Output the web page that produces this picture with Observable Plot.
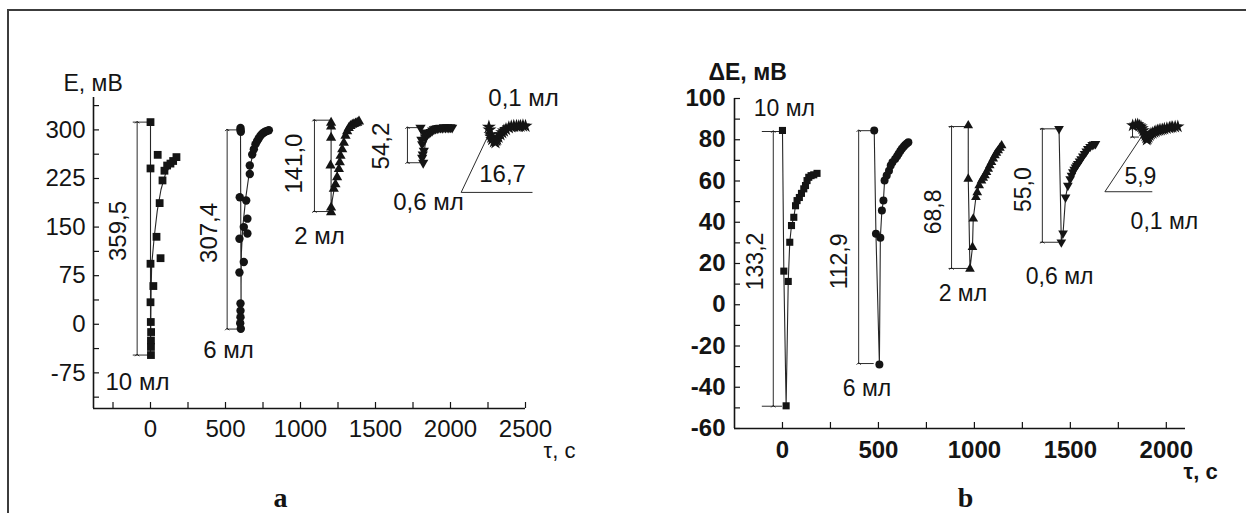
<!DOCTYPE html>
<html><head><meta charset="utf-8">
<script src="https://cdn.jsdelivr.net/npm/d3@7"></script>
<script src="https://cdn.jsdelivr.net/npm/@observablehq/plot@0.6"></script>
<style>
html,body{margin:0;padding:0;background:#fff;}
#wrap{position:relative;width:1246px;height:513px;overflow:hidden;background:#fff;}
#frame{position:absolute;left:7px;top:9px;width:1245px;height:520px;border-top:2px solid #3c3c3c;border-left:2px solid #3c3c3c;}
#pa{position:absolute;left:0;top:0;width:620px;height:513px;}
#pb{position:absolute;left:620px;top:0;width:626px;height:513px;}
</style></head>
<body><div id="wrap"><div id="frame"></div><div id="pa"></div><div id="pb"></div></div>
<script>
// ---------------- Panel a : E, мВ vs τ, с ----------------
const xDomainA = [-380, 2500];
const yDomainA = [-130, 350];
const xTicksA = [0, 500, 1000, 1500, 2000, 2500];
const xMinorA = [-250, 250, 750, 1250, 1750, 2250];
const yTicksA = [-75, 0, 75, 150, 225, 300];
const yMinorA = [-112.5, -37.5, 37.5, 112.5, 187.5, 262.5, 337.5];

// 10 мл (squares)
const a10_t = [0, 48, 0, 80, 93, 111, 133, 151, 173, 61, 40, 67, 0, 19, 0, 2, 4, 3, 3, 3];
const a10_E = [312, 261.5, 240.5, 222, 237, 245, 248, 252, 258, 187, 135, 102, 93.4, 59, 34, 3.5, -12, -25, -35, -47.5];
const a10fit_t = [0, 0, 2, 4, 8, 25, 45, 70, 100, 135, 175];
const a10fit_E = [312, -47.5, 0, 50, 92, 135, 175, 208, 232, 246, 253];
// 6 мл (circles)
const a6_t = [600, 600, 602, 595, 638, 646, 662, 622, 593, 646, 622, 593, 600, 600, 600, 598, 602, 662, 678, 689, 700, 711, 722, 733, 745, 756, 767, 778, 789];
const a6_E = [303, 300, 297, 196, 191, 163, 232, 150, 132, 140, 96, 80, 32, 21, 11, 1.5, -7, 245, 262, 270, 278, 283, 287, 291, 294, 296, 297.5, 298.5, 299.5];
const a6fit_t = [600, 604, 604, 606, 615, 635, 655, 670, 690, 715, 745, 789];
const a6fit_E = [303, -7, 60, 110, 150, 195, 228, 250, 270, 284, 293, 299.5];
// 2 мл (up triangles)
const a2_t = [1204, 1204, 1204, 1200, 1222, 1204, 1204, 1233, 1244, 1256, 1262, 1267, 1278, 1289, 1300, 1311, 1322, 1333, 1345, 1356, 1367, 1378, 1390];
const a2_E = [311, 305, 288, 245, 209, 180, 173, 216, 227, 239.5, 250, 260, 270, 280, 291, 298, 303, 306, 308, 309, 310, 311, 313];
const a2fit_t = [1204, 1204, 1212, 1224, 1238, 1252, 1266, 1285, 1305, 1335, 1390];
const a2fit_E = [311, 173, 192, 208, 225, 242, 260, 282, 296, 307, 313];
// 0,6 мл (down triangles)
const a06_t = [1800, 1822, 1833, 1811, 1822, 1811, 1818, 1815, 1806, 1844, 1856, 1867, 1878, 1889, 1900, 1911, 1922, 1933, 1945, 1956, 1967, 1978, 1989, 2000, 2011];
const a06_E = [303.5, 296, 288, 278, 268, 257, 249.3, 262, 285, 293, 295, 297, 299, 301, 302, 302.5, 303, 303.5, 303, 304, 303.5, 304, 303.5, 304, 303.5];
const a06fit_t = [1800, 1818, 1825, 1832, 1842, 1860, 1890, 1950, 2011];
const a06fit_E = [303.5, 249.3, 265, 280, 292, 299, 302, 303.5, 303.5];
// 0,1 мл (stars)
const a01_t = [2256, 2260, 2267, 2272, 2278, 2290, 2300, 2305, 2311, 2320, 2333, 2345, 2356, 2370, 2389, 2405, 2422, 2440, 2455, 2467, 2483, 2500];
const a01_E = [304.6, 300, 293, 289, 285.6, 282, 280.5, 284, 285.6, 289, 293, 296, 298.5, 301, 303.5, 305, 306, 306, 305.5, 306, 306.5, 306];

// dimension brackets (panel a)
const bracketA_x = [-89, 511, 1093, 1713, 2256];
const bracketA_top = [312, 300, 315, 303.5, 304.2];
const bracketA_bottom = [-47.5, -7.4, 174, 249.3, 287.5];
const bracketA_left = [-115, 511, 1085, 1713, 2256];
const bracketA_right = [0, 600, 1204, 1800, 2278];
const leaderA_t = [2244, 2071, 2544];
const leaderA_E = [288, 203.5, 203.5];
// annotations (panel a)
const annA_text = ["359,5", "10 мл", "307,4", "6 мл", "141,0", "2 мл", "54,2", "0,6 мл", "16,7", "0,1 мл"];
const annA_t = [-217, -87, 393, 520, 960, 1127, 1538, 1853, 2347, 2487];
const annA_E = [144, -89, 141, -40, 248, 136, 275, 188, 231, 348];
const annA_rot = [-90, 0, -90, 0, -90, 0, -90, 0, 0, 0];

// ---------------- Panel b : ΔE, мВ vs τ, с ----------------
const xDomainB = [-250, 2100];
const yDomainB = [-60, 100];
const xTicksB = [0, 500, 1000, 1500, 2000];
const xMinorB = [250, 750, 1250, 1750];
const yTicksB = [-60, -40, -20, 0, 20, 40, 60, 80, 100];
const yMinorB = [-50, -30, -10, 10, 30, 50, 70, 90];

const b10_t = [0, 7, 19, 30, 38, 47, 59, 68, 76, 88, 99, 111, 120, 128, 137, 149, 163, 180];
const b10_E = [84.5, 16.3, -49, 11.3, 30.3, 38.4, 42.4, 48, 50.5, 52, 54, 56.2, 57.8, 60.2, 61.8, 62.6, 63, 63.7];
const b6_t = [478, 487, 505, 510, 518, 526, 532, 543, 555, 564, 573, 587, 597, 605, 614, 622, 631, 639, 648, 656];
const b6_E = [84.5, 34.4, -29, 32.5, 45.7, 50.5, 60.2, 62.7, 65, 67.5, 69.1, 70.7, 72, 73.2, 74.5, 75.6, 76.6, 77.5, 78.2, 78.8];
const b2_t = [968, 968, 977, 990, 994, 1008, 1015, 1025, 1037, 1046, 1055, 1063, 1072, 1080, 1089, 1098, 1107, 1115, 1124, 1133, 1142];
const b2_E = [86.9, 61, 17.4, 27.9, 41.7, 52.1, 54.5, 57.8, 60.2, 61.5, 62.7, 64.3, 65.9, 67.5, 69.1, 70.8, 72.4, 73.6, 74.8, 76, 77.2];
const b06_t = [1441, 1453, 1462, 1475, 1487, 1499, 1506, 1513, 1520, 1527, 1533, 1539, 1548, 1556, 1565, 1574, 1583, 1591, 1603, 1614, 1622, 1631];
const b06_E = [85.3, 30.3, 34.7, 52.1, 57.8, 61, 62.7, 64.3, 65.5, 66.7, 67.5, 68.3, 69.5, 70.7, 72, 73.2, 74.4, 75.6, 76.6, 77.5, 77.8, 78];
const b01_t = [1825, 1840, 1851, 1860, 1868, 1874, 1880, 1886, 1891, 1895, 1898, 1903, 1908, 1914, 1920, 1929, 1938, 1946, 1955, 1963, 1972, 1981, 1990, 2003, 2016, 2025, 2033, 2046, 2060];
const b01_E = [86.9, 87.2, 87.4, 86.8, 86.4, 85.5, 84.5, 83.2, 82, 81, 80, 80.5, 81.3, 82.2, 82.9, 83.3, 83.7, 84.1, 84.5, 84.7, 84.8, 85, 85.3, 85.6, 85.8, 86, 86.1, 86.3, 86.4];

const bracketB_x = [-48, 397, 881, 1354, 1824];
const bracketB_top = [84.0, 84.4, 86.4, 85.3, 87.2];
const bracketB_bottom = [-49.2, -28.5, 17.6, 30.3, 81.3];
const bracketB_left = [-105, 397, 868, 1344, 1815];
const bracketB_right = [0, 478, 968, 1441, 1860];
const leaderB_t = [1878, 1680, 1925];
const leaderB_E = [82.5, 54.8, 54.8];
const annB_text = ["10 мл", "133,2", "112,9", "6 мл", "68,8", "2 мл", "55,0", "0,6 мл", "5,9", "0,1 мл"];
const annB_t = [10, -140, 300, 440, 785, 940, 1257, 1444, 1865, 1990];
const annB_E = [95, 21, 21, -40.7, 45, 5.3, 55.8, 13.4, 62.2, 40.4];
const annB_rot = [0, -90, -90, 0, -90, 0, -90, 0, 0, 0];

// ---------------- helpers ----------------
const ink = "#141414";
const sans = "'Liberation Sans', Arial, Helvetica, sans-serif";
const serif = "'Liberation Serif', 'Times New Roman', serif";
const zip = (xs, ys) => xs.map((x, i) => ({x, y: ys[i]}));
const triDown = {draw(context, size) {
  const y = Math.sqrt(size / (Math.sqrt(3) * 3));
  context.moveTo(0, 2 * y);
  context.lineTo(-Math.sqrt(3) * y, -y);
  context.lineTo(Math.sqrt(3) * y, -y);
  context.closePath();
}};
const brackets = (xs, tops, bots, lefts, rights) => xs.map((x, i) => ({x, top: tops[i], bottom: bots[i], left: lefts[i], right: rights[i]}));
const anns = (texts, xs, ys, rots) => texts.map((t, i) => ({t, x: xs[i], y: ys[i], r: rots[i]}));

function panel(o) {
  const innerW = o.width - o.ml - o.mr;
  const innerH = o.height - o.mt - o.mb;
  const br = brackets(...o.br);
  const an = anns(...o.ann);
  const marks = [
    Plot.ruleX([o.xDomain[0]], {stroke: ink, strokeWidth: 1.6}),
    Plot.ruleY([o.yDomain[0]], {stroke: ink, strokeWidth: 1.6}),
    Plot.tickX(o.xTicks.concat(o.xMinor), {x: d => d, insetTop: innerH - 6, stroke: ink, strokeWidth: 1.2}),
    Plot.tickY(o.yTicks.concat(o.yMinor), {y: d => d, insetRight: innerW - 6, stroke: ink, strokeWidth: 1.2}),
    Plot.text(o.xTicks, {x: d => d, frameAnchor: "bottom", lineAnchor: "top", dy: o.xdy, text: d => String(d), fontSize: o.tickFont, fontWeight: o.weight, fill: ink}),
    Plot.text(o.yTicks, {y: d => d, frameAnchor: "left", textAnchor: "end", dx: -o.ydx, text: d => String(d), fontSize: o.tickFont, fontWeight: o.weight, fill: ink}),
    Plot.text([o.ylabel], {frameAnchor: "top-left", textAnchor: "start", dx: o.ylabelPos[0], dy: o.ylabelPos[1], fontSize: o.labelFont, fontWeight: o.weight, fill: ink}),
    Plot.text([o.xlabel], {frameAnchor: "bottom-right", textAnchor: "start", dx: o.xlabelPos[0], dy: o.xlabelPos[1], fontSize: 22, fontWeight: o.weight, fill: ink}),
    Plot.text([o.letter], {frameAnchor: "bottom-left", textAnchor: "middle", dx: o.letterPos[0], dy: o.letterPos[1], fontSize: 28, fontWeight: "bold", fontFamily: serif, fill: ink}),
    // brackets
    Plot.link(br, {x1: "x", x2: "x", y1: "bottom", y2: "top", stroke: ink, strokeWidth: 0.9, markerStart: "arrow", markerEnd: "arrow"}),
    Plot.ruleY(br, {y: "top", x1: "left", x2: "right", stroke: ink, strokeWidth: 0.9}),
    Plot.ruleY(br, {y: "bottom", x1: "left", x2: "right", stroke: ink, strokeWidth: 0.9}),
    Plot.line(zip(...o.leader), {x: "x", y: "y", stroke: ink, strokeWidth: 0.9}),
    Plot.text(an.filter(d => d.r === 0), {x: "x", y: "y", text: "t", fontSize: o.annFont, fill: ink}),
    Plot.text(an.filter(d => d.r !== 0), {x: "x", y: "y", text: "t", rotate: -90, fontSize: o.annFont, fill: ink})
  ];
  for (const s of o.series) {
    if (s.line) marks.push(Plot.line(zip(...s.line), {x: "x", y: "y", stroke: "#262626", strokeWidth: 1.1}));
    marks.push(Plot.dot(zip(...s.pts), {x: "x", y: "y", symbol: s.symbol, r: s.r, fill: ink, stroke: "none"}));
  }
  return Plot.plot({
    width: o.width, height: o.height,
    marginLeft: o.ml, marginRight: o.mr, marginTop: o.mt, marginBottom: o.mb,
    x: {domain: o.xDomain, axis: null},
    y: {domain: o.yDomain, axis: null},
    style: {fontFamily: sans, color: ink, background: "transparent", overflow: "visible"},
    marks
  });
}

const plotA = panel({
  width: 620, height: 513, ml: 93, mr: 95, mt: 97, mb: 105,
  xDomain: xDomainA, yDomain: yDomainA,
  xTicks: xTicksA, xMinor: xMinorA, yTicks: yTicksA, yMinor: yMinorA,
  xdy: 11, ydx: 8, tickFont: 24, labelFont: 23, annFont: 24, weight: "normal",
  ylabel: "E, мВ", ylabelPos: [-30, -23],
  xlabel: "τ, с", xlabelPos: [18, 49],
  letter: "a", letterPos: [187, 98],
  br: [bracketA_x, bracketA_top, bracketA_bottom, bracketA_left, bracketA_right],
  leader: [leaderA_t, leaderA_E],
  ann: [annA_text, annA_t, annA_E, annA_rot],
  series: [
    {pts: [a10_t, a10_E], line: [a10fit_t, a10fit_E], symbol: "square", r: 4.4},
    {pts: [a6_t, a6_E], line: [a6fit_t, a6fit_E], symbol: "circle", r: 4.2},
    {pts: [a2_t, a2_E], line: [a2fit_t, a2fit_E], symbol: "triangle", r: 3.8},
    {pts: [a06_t, a06_E], line: [a06fit_t, a06fit_E], symbol: triDown, r: 3.8},
    {pts: [a01_t, a01_E], line: null, symbol: "star", r: 4.4}
  ]
});

const plotB = panel({
  width: 626, height: 513, ml: 114, mr: 61, mt: 98, mb: 85,
  xDomain: xDomainB, yDomain: yDomainB,
  xTicks: xTicksB, xMinor: xMinorB, yTicks: yTicksB, yMinor: yMinorB,
  xdy: 12, ydx: 9, tickFont: 24, labelFont: 23, annFont: 23, weight: "bold",
  ylabel: "ΔE, мВ", ylabelPos: [-26, -35],
  xlabel: "τ, с", xlabelPos: [-2, 50],
  letter: "b", letterPos: [231, 78],
  br: [bracketB_x, bracketB_top, bracketB_bottom, bracketB_left, bracketB_right],
  leader: [leaderB_t, leaderB_E],
  ann: [annB_text, annB_t, annB_E, annB_rot],
  series: [
    {pts: [b10_t, b10_E], line: [b10_t, b10_E], symbol: "square", r: 4},
    {pts: [b6_t, b6_E], line: [b6_t, b6_E], symbol: "circle", r: 4},
    {pts: [b2_t, b2_E], line: [b2_t, b2_E], symbol: "triangle", r: 3.6},
    {pts: [b06_t, b06_E], line: [b06_t, b06_E], symbol: triDown, r: 3.6},
    {pts: [b01_t, b01_E], line: [b01_t, b01_E], symbol: "star", r: 4.2}
  ]
});

document.getElementById("pa").appendChild(plotA);
document.getElementById("pb").appendChild(plotB);
</script></body></html>
